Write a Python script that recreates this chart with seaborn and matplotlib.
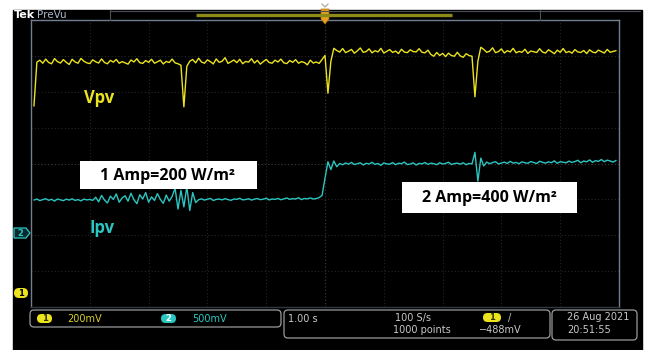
import numpy as np
import pandas as pd
import seaborn as sns
import matplotlib.pyplot as plt
from matplotlib.patches import Rectangle, FancyBboxPatch, Polygon

# ---- acquisition settings ----
sample_step = 0.05          # s between displayed samples
time_per_div = 1.0          # s/div
ch1_volts_per_div = 200.0   # mV/div (Vpv)
ch2_volts_per_div = 500.0   # mV/div (Ipv)
ch1_offset_div = -3.60      # ground marker of channel 1, in divisions
ch2_offset_div = -1.93      # ground marker of channel 2, in divisions

# ---- channel 1: PV voltage (mV) ----
vpv_mv = [
    1040, 1285, 1296, 1279, 1302, 1283, 1276, 1305, 1288, 1280,
    1299, 1284, 1272, 1301, 1286, 1279, 1306, 1290, 1281, 1277,
    1298, 1287, 1280, 1303, 1283, 1276, 1295, 1285, 1300, 1279,
    1288, 1281, 1274, 1297, 1286, 1304, 1282, 1278, 1294, 1284,
    1301, 1279, 1287, 1296, 1275, 1289, 1283, 1302, 1281, 1276,
    1268, 1036, 1262, 1290, 1300, 1281, 1307, 1286, 1279, 1298,
    1288, 1275, 1303, 1284, 1290, 1310, 1278, 1287, 1297, 1282,
    1301, 1276, 1289, 1285, 1304, 1280, 1295, 1274, 1288, 1300,
    1283, 1279, 1296, 1286, 1302, 1281, 1277, 1294, 1284, 1299,
    1279, 1288, 1283, 1270, 1296, 1280, 1286, 1278, 1300, 1322,
    1112, 1290, 1362, 1350, 1341, 1361, 1338, 1346, 1356, 1335,
    1348, 1364, 1340, 1344, 1359, 1337, 1349, 1342, 1362, 1336,
    1345, 1355, 1339, 1347, 1333, 1357, 1341, 1338, 1354, 1344,
    1342, 1360, 1340, 1337, 1352, 1328, 1318, 1339, 1322, 1334,
    1316, 1335, 1322, 1318, 1340, 1320, 1312, 1332, 1322, 1318,
    1092, 1290, 1368, 1356, 1340, 1346, 1365, 1338, 1344, 1359,
    1336, 1349, 1342, 1362, 1337, 1345, 1340, 1357, 1334, 1347,
    1343, 1339, 1360, 1341, 1336, 1354, 1344, 1332, 1352, 1340,
    1361, 1338, 1345, 1335, 1355, 1342, 1339, 1350, 1333, 1354,
    1341, 1337, 1352, 1344, 1336, 1356, 1340, 1345, 1349,
]

# ---- channel 2: PV current probe (mV) ----
ipv_mv = [
    455, 470, 448, 462, 475, 452, 466, 441, 470, 458,
    447, 468, 455, 473, 450, 462, 444, 469, 457, 465,
    451, 495, 430, 520, 455, 415, 510, 465, 540, 425,
    485, 515, 440, 550, 460, 405, 530, 470, 560, 425,
    500, 450, 545, 465, 410, 525, 440, 505, 620, 330,
    590, 360, 640, 310, 560, 420, 460, 472, 455, 468,
    478, 450, 464, 470, 458, 475, 462, 452, 470, 466,
    480, 458, 463, 474, 455, 469, 476, 461, 468, 482,
    457, 470, 465, 478, 460, 472, 484, 466, 475, 470,
    488, 462, 478, 472, 485, 470, 476, 490, 520, 760,
    990, 880, 1000, 920, 965, 948, 972, 955, 980, 950,
    962, 975, 945, 968, 958, 982, 952, 966, 940, 973,
    960, 955, 978, 948, 969, 962, 985, 950, 958, 974,
    944, 967, 960, 979, 953, 970, 962, 948, 976, 958,
    966, 983, 951, 964, 970, 956, 975, 948, 966, 960,
    1120, 720, 1040, 930, 985, 962, 978, 990, 958, 972,
    984, 966, 995, 970, 980, 962, 988, 975, 968, 992,
    978, 965, 996, 981, 970, 988, 976, 1002, 968, 990,
    983, 975, 998, 980, 992, 1010, 975, 1000, 988, 1015,
    982, 1005, 995, 1020, 990, 1012, 1000, 985, 1008,
]

trace_labels = ["Vpv", "Ipv"]
note_labels = ["1 Amp=200 W/m\u00b2", "2 Amp=400 W/m\u00b2"]

YELLOW = "#ece41e"
CYAN = "#2cc6c2"
FRAME = "#6f7f90"
GREY_TXT = "#c8c8c8"

sns.set_style("dark")
plt.rcParams["font.family"] = ["DejaVu Sans"]

t = np.arange(1, len(vpv_mv) + 1) * sample_step
df = pd.DataFrame({
    "t": t,
    "ch1": np.array(vpv_mv) / ch1_volts_per_div + ch1_offset_div,
    "ch2": np.array(ipv_mv) / ch2_volts_per_div + ch2_offset_div,
})

W, H = 647, 350
fig = plt.figure(figsize=(W / 100, H / 100), dpi=100)
fig.patch.set_facecolor("white")

# screen background
bg = fig.add_axes([0, 0, 1, 1], zorder=0)
bg.set_xlim(0, W); bg.set_ylim(H, 0); bg.axis("off")
bg.add_patch(Rectangle((13, 10), 629, 340, color="black"))

# graticule + traces
ax = fig.add_axes([31 / W, (H - 307) / H, 588 / W, 287 / H], zorder=1)
ax.set_facecolor("none")
ax.set_xlim(0, 10 * time_per_div)
ax.set_ylim(-4, 4)
ax.set_xticks(np.arange(0, 11))
ax.set_yticks(np.arange(-4, 5))
ax.tick_params(length=0, labelbottom=False, labelleft=False)
ax.grid(True, color="#262626", linestyle=(0, (1, 2)), linewidth=0.8)
ax.axvline(5, color="#363636", linestyle=(0, (1, 2)), linewidth=0.8)
ax.axhline(0, color="#363636", linestyle=(0, (1, 2)), linewidth=0.8)
for side, sp in ax.spines.items():
    sp.set_color(FRAME if side != "bottom" else "#2f3740")
    sp.set_linewidth(1.0)

sns.lineplot(data=df, x="t", y="ch1", ax=ax, color=YELLOW, linewidth=1.0,
             estimator=None, sort=False)
sns.lineplot(data=df, x="t", y="ch2", ax=ax, color=CYAN, linewidth=1.0,
             estimator=None, sort=False)
ax.set_xlabel(""); ax.set_ylabel("")

# overlay (pixel coordinates)
fg = fig.add_axes([0, 0, 1, 1], zorder=2)
fg.set_xlim(0, W); fg.set_ylim(H, 0); fg.axis("off")
fg.patch.set_alpha(0)

# header
fg.text(14, 15, "Tek", color="white", fontsize=8, fontweight="bold", va="center")
fg.text(37, 15, "PreVu", color="#a8b8c8", fontsize=7.5, va="center")
fg.plot([110, 640], [10.5, 10.5], color="#4a4f55", lw=0.8)
fg.plot([110, 110], [10, 20], color="#4a4f55", lw=0.8)
fg.plot([540, 540], [10, 20], color="#4a4f55", lw=0.8)
fg.plot([196, 452], [15, 15], color="#8c8a18", lw=2.4, solid_capstyle="butt")
fg.add_patch(Polygon([(321, 9), (329, 9), (329, 19), (325, 24), (321, 19)],
                     closed=True, fc="#e8a020", ec="#b07010", lw=0.5))
fg.plot([322, 325, 328], [4, 7, 4], color="#b8b0a0", lw=1.0)

# trace names
fg.text(99, 98, trace_labels[0], color=YELLOW, fontsize=12, fontweight="bold",
        family="Open Sans", ha="center", va="center")
fg.text(102, 228, trace_labels[1], color=CYAN, fontsize=12, fontweight="bold",
        family="Open Sans", ha="center", va="center")

# irradiance notes
fg.add_patch(Rectangle((80, 161), 177, 28, fc="white", ec="none"))
fg.text(168, 175.5, note_labels[0], color="black", fontsize=11.5, fontweight="bold",
        family="Open Sans", ha="center", va="center")
fg.add_patch(Rectangle((402, 182), 175, 31, fc="white", ec="none"))
fg.text(489.5, 198, note_labels[1], color="black", fontsize=11.5, fontweight="bold",
        family="Open Sans", ha="center", va="center")

# channel ground markers
fg.add_patch(Polygon([(14, 228), (26, 228), (30, 233), (26, 238), (14, 238)],
                     closed=True, fc="#0b2a2e", ec=CYAN, lw=0.9))
fg.text(20, 233.5, "2", color=CYAN, fontsize=6, fontweight="bold", ha="center", va="center")
fg.add_patch(FancyBboxPatch((14, 288), 14, 10, boxstyle="round,pad=0,rounding_size=5",
                            fc=YELLOW, ec="none"))
fg.text(20.5, 293.3, "1", color="black", fontsize=6, fontweight="bold", ha="center", va="center")

# status bar
def rbox(x, y, w, h):
    fg.add_patch(FancyBboxPatch((x, y), w, h, boxstyle="round,pad=0,rounding_size=4",
                                fc="none", ec="#9a9a9a", lw=0.9))

def pill(x, y, w, h, color, label, tcolor):
    fg.add_patch(FancyBboxPatch((x, y), w, h, boxstyle="round,pad=0,rounding_size=4.5",
                                fc=color, ec="none"))
    fg.text(x + w / 2, y + h / 2 + 0.3, label, color=tcolor, fontsize=6,
            fontweight="bold", ha="center", va="center")

rbox(30, 310, 251, 17)
pill(37, 314, 15, 9, YELLOW, "1", "#333300")
fg.text(67, 318.5, "200mV", color="#d6cf2c", fontsize=7, va="center")
pill(161, 314, 15, 9, CYAN, "2", "white")
fg.text(192, 318.5, "500mV", color=CYAN, fontsize=7, va="center")

rbox(284, 310, 266, 28)
fg.text(288, 318.5, "1.00 s", color=GREY_TXT, fontsize=7, va="center")
fg.text(395, 317.5, "100 S/s", color=GREY_TXT, fontsize=7, va="center")
fg.text(393, 330, "1000 points", color=GREY_TXT, fontsize=7, va="center")
pill(483, 313, 18, 9, YELLOW, "1", "#333300")
fg.text(508, 317.5, "/", color=GREY_TXT, fontsize=7, va="center")
fg.text(479, 330, "\u2212488mV", color=GREY_TXT, fontsize=7, va="center")

rbox(552, 310, 85, 30)
fg.text(567, 317.5, "26 Aug 2021", color=GREY_TXT, fontsize=7, va="center")
fg.text(567, 330, "20:51:55", color=GREY_TXT, fontsize=7, va="center")

fig.savefig("out.png", dpi=100, facecolor="white")
